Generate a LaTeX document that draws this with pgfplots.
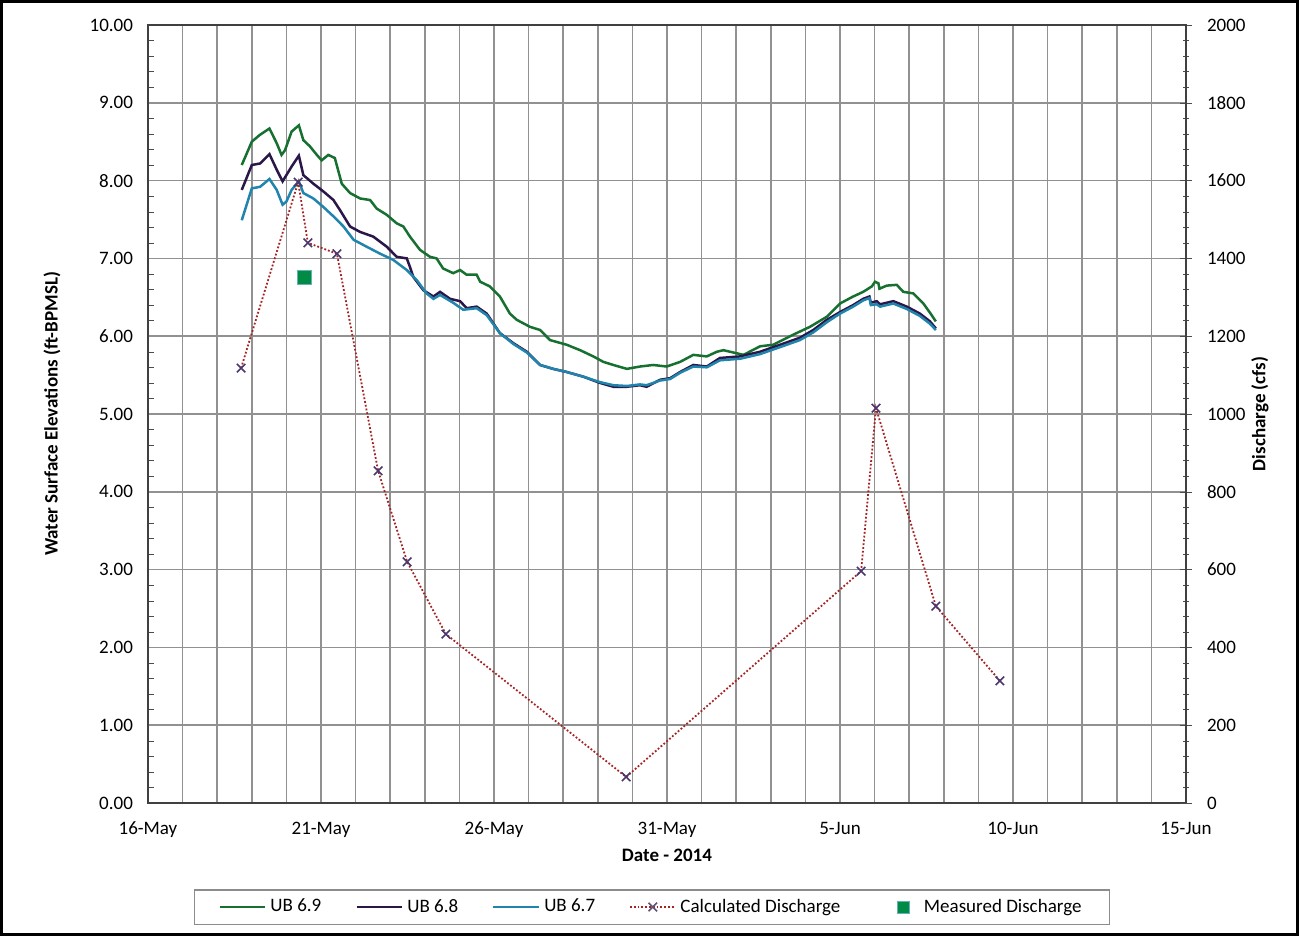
\documentclass[border=0pt]{standalone}
\usepackage{pgfplots}
\pgfplotsset{compat=1.18}
\usepackage{fontspec}
\setmainfont{Carlito}
\definecolor{cgreen}{RGB}{22,112,48}
\definecolor{cpurple}{RGB}{42,22,72}
\definecolor{cblue}{RGB}{32,132,172}
\definecolor{cred}{RGB}{165,35,35}
\definecolor{cmark}{RGB}{75,55,110}
\definecolor{cmeas}{RGB}{0,140,70}
\definecolor{cgrid}{RGB}{145,145,145}
\begin{document}
\begin{tikzpicture}
\pgfplotsset{
  every axis/.append style={font=\fontsize{9.5}{11}\selectfont},
  /pgfplots/legend image code/.code={\draw[mark repeat=2,mark phase=2,#1] plot coordinates {(0cm,0cm) (0.4cm,0cm) (0.8cm,0cm)};},
}
\draw[line width=1.5pt] (0.75pt,0.75pt) rectangle (648.75pt,467.25pt);
\begin{axis}[
  at={(74pt,66.5pt)}, anchor=south west,
  scale only axis, width=519pt, height=389pt,
  xmin=0, xmax=30, ymin=0, ymax=10,
  xtick={0,5,...,30},
  xticklabels={16-May,21-May,26-May,31-May,5-Jun,10-Jun,15-Jun},
  minor xtick={0,...,30},
  ytick={0,1,...,10}, minor y tick num=4,
  xminorgrids, ymajorgrids,
  major grid style={cgrid, line width=0.75pt},
  minor grid style={cgrid, line width=0.75pt},
  x tick style={draw=none},
  ytick pos=left, ytick align=inside,
  major tick length=0pt, minor tick length=3pt,
  y tick style={black!70},
  axis line style={black!75, line width=0.6pt},
  yticklabel style={/pgf/number format/fixed, /pgf/number format/fixed zerofill, /pgf/number format/precision=2, /pgf/number format/assume math mode=true, xshift=-4pt},
  xticklabel style={yshift=-6pt},
  xlabel={\textbf{Date - 2014}},
  xlabel style={at={(axis description cs:0.5,-0.0668)}, anchor=center},
  ylabel={\textbf{Water Surface Elevations (ft-BPMSL)}},
  ylabel style={at={(axis description cs:-0.0925,0.5)}, anchor=center},
  legend style={at={(axis description cs:0.4855,-0.1337)}, anchor=center,
    legend columns=5, draw=black!45, line width=0.6pt, inner xsep=12pt, inner ysep=2.5pt,
    /tikz/every even column/.append style={column sep=15pt}},
  legend cell align=left,
]
\addplot[cgreen, line width=1.25pt] coordinates {
(2.71,8.20)(3.00,8.50)(3.24,8.59)(3.51,8.67)(3.72,8.48)(3.86,8.33)(3.96,8.39)(4.15,8.63)(4.36,8.71)(4.49,8.52)(4.68,8.44)(4.88,8.33)(5.02,8.26)(5.21,8.33)(5.40,8.29)(5.60,7.96)(5.84,7.84)(6.13,7.77)(6.42,7.75)(6.61,7.64)(6.90,7.56)(7.19,7.45)(7.38,7.41)(7.57,7.28)(7.86,7.11)(8.15,7.02)(8.34,7.00)(8.53,6.87)(8.82,6.81)(9.02,6.85)(9.21,6.79)(9.50,6.79)(9.60,6.70)(9.88,6.64)(10.17,6.51)(10.46,6.29)(10.66,6.21)(11.04,6.12)(11.33,6.08)(11.62,5.95)(12.10,5.89)(12.49,5.82)(12.87,5.74)(13.16,5.67)(13.45,5.63)(13.84,5.58)(14.22,5.61)(14.60,5.63)(14.99,5.61)(15.38,5.67)(15.76,5.76)(16.15,5.74)(16.44,5.80)(16.63,5.82)(17.21,5.76)(17.69,5.87)(18.07,5.89)(18.65,6.02)(19.13,6.12)(19.62,6.25)(20.00,6.42)(20.38,6.51)(20.67,6.57)(20.92,6.64)(21.01,6.70)(21.11,6.68)(21.14,6.61)(21.35,6.65)(21.64,6.66)(21.83,6.57)(22.12,6.55)(22.41,6.42)(22.65,6.27)(22.77,6.19)
};
\addlegendentry{UB 6.9}
\addplot[cpurple, line width=1.25pt] coordinates {
(2.71,7.88)(3.00,8.20)(3.24,8.22)(3.51,8.34)(3.72,8.14)(3.89,7.99)(4.15,8.18)(4.36,8.32)(4.49,8.07)(4.78,7.96)(5.07,7.86)(5.36,7.75)(5.55,7.62)(5.84,7.41)(6.13,7.34)(6.51,7.28)(6.90,7.15)(7.19,7.02)(7.48,7.00)(7.57,6.89)(7.67,6.76)(7.96,6.59)(8.25,6.51)(8.44,6.57)(8.73,6.48)(9.02,6.45)(9.21,6.36)(9.50,6.38)(9.79,6.29)(10.17,6.04)(10.56,5.91)(10.95,5.80)(11.33,5.63)(11.71,5.58)(12.10,5.54)(12.58,5.48)(13.06,5.40)(13.45,5.35)(13.84,5.35)(14.22,5.37)(14.41,5.35)(14.80,5.44)(15.09,5.46)(15.38,5.54)(15.76,5.63)(16.15,5.61)(16.53,5.72)(17.11,5.74)(17.69,5.80)(18.27,5.89)(18.84,5.98)(19.23,6.08)(19.62,6.21)(20.00,6.31)(20.38,6.40)(20.67,6.48)(20.85,6.51)(20.89,6.43)(21.06,6.45)(21.16,6.41)(21.54,6.45)(21.93,6.38)(22.31,6.29)(22.60,6.19)(22.77,6.10)
};
\addlegendentry{UB 6.8}
\addplot[cblue, line width=1.25pt] coordinates {
(2.71,7.49)(3.00,7.90)(3.24,7.92)(3.51,8.02)(3.72,7.88)(3.89,7.69)(4.00,7.73)(4.15,7.88)(4.36,7.99)(4.49,7.84)(4.78,7.77)(5.07,7.66)(5.36,7.54)(5.65,7.41)(5.94,7.24)(6.32,7.15)(6.71,7.06)(7.09,6.98)(7.48,6.85)(7.77,6.72)(8.05,6.55)(8.25,6.48)(8.44,6.53)(8.82,6.43)(9.11,6.34)(9.50,6.36)(9.79,6.27)(10.17,6.04)(10.56,5.90)(10.95,5.79)(11.33,5.63)(11.71,5.58)(12.10,5.54)(12.58,5.48)(13.06,5.41)(13.45,5.37)(13.84,5.36)(14.22,5.38)(14.41,5.37)(14.80,5.43)(15.09,5.45)(15.38,5.53)(15.76,5.61)(16.15,5.60)(16.53,5.69)(17.11,5.71)(17.69,5.77)(18.27,5.86)(18.84,5.95)(19.23,6.05)(19.62,6.18)(20.00,6.29)(20.38,6.38)(20.67,6.46)(20.85,6.49)(20.89,6.40)(21.06,6.41)(21.16,6.38)(21.54,6.42)(21.93,6.35)(22.31,6.26)(22.60,6.16)(22.77,6.08)
};
\addlegendentry{UB 6.7}
\addlegendimage{cred, densely dotted, line width=0.9pt, mark=x, mark size=3pt, mark options={solid, draw=cmark!60!gray, line width=0.8pt}}
\addlegendentry{Calculated Discharge}
\addlegendimage{draw=none, legend image code/.code={\path[draw=none] (0cm,0cm) -- (0.8cm,0cm); \node[draw=teal!60!white, fill=cmeas, line width=0.5pt, minimum size=6pt, inner sep=0pt] at (0.4cm,0cm) {};}}
\addlegendentry{Measured Discharge}
\end{axis}
\begin{axis}[
  at={(74pt,66.5pt)}, anchor=south west,
  scale only axis, width=519pt, height=389pt,
  xmin=0, xmax=30, ymin=0, ymax=2000,
  axis x line=none, axis y line*=right,
  ytick={0,200,...,2000}, minor y tick num=4,
  ytick align=center, major tick length=6pt, minor tick length=3pt,
  y tick style={black!70},
  axis line style={black!75, line width=0.6pt},
  yticklabel style={/pgf/number format/1000 sep={}, /pgf/number format/assume math mode=true, xshift=4pt},
  ylabel={\textbf{Discharge (cfs)}},
  ylabel style={at={(axis description cs:1.0713,0.5)}, anchor=center},
]
\addplot[cred, densely dotted, line width=0.9pt, mark=x, mark size=3pt, mark options={solid, draw=cmark, line width=0.8pt}] coordinates {
(2.69,1118)(4.34,1596)(4.62,1440)(5.46,1412)(6.65,854)(7.49,620)(8.61,434)(13.82,67)(20.61,596)(21.04,1015)(22.77,506)(24.62,314)
};
\addplot[only marks, mark=square*, mark size=3.5pt, mark options={fill=cmeas, draw=teal!60!white, line width=0.5pt}] coordinates {(4.51,1350)};
\end{axis}
\end{tikzpicture}
\end{document}
